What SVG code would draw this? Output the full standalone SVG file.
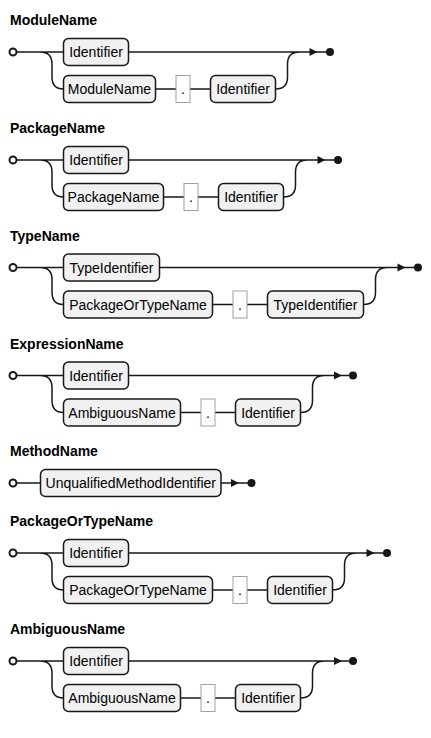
<svg xmlns="http://www.w3.org/2000/svg" width="431" height="738" viewBox="0 0 431 738">
<style>
.bg{fill:#ffffff}
.title{font-family:"Liberation Sans",Arial,sans-serif;font-size:14px;font-weight:bold;fill:#000000}
.nt rect{fill:#F1F1F1;stroke:#181818;stroke-width:1.5}
.nt text{font-family:"Liberation Sans",Arial,sans-serif;font-size:14px;fill:#000000;text-anchor:middle}
.t rect{fill:#FFFFFF;stroke:#A0A0A0;stroke-width:1}
.t text{font-family:"Liberation Sans",Arial,sans-serif;font-size:14px;fill:#000000;text-anchor:middle}
.ln{fill:none;stroke:#181818;stroke-width:1.5}
.start{fill:#FFFFFF;stroke:#181818;stroke-width:2}
.end{fill:#181818;stroke:none}
.arr{fill:#181818;stroke:none}
</style>
<rect class="bg" x="0" y="0" width="431" height="738"/>

<!-- ModuleName Y=52 -->
<g id="ModuleName">
<text class="title" x="10" y="25">ModuleName</text>
<g id="conn-ModuleName">
<path class="ln" d="M17,52 H63.5 M40,52 C48,52 52,56 52,64 V77 C52,85 56,89 63.5,89 M128.5,52 H330 M155.5,89 H176 M190,89 H210.5 M275.5,89 C283.5,89 287.5,85 287.5,77 V64 C287.5,56 291.5,52 299.5,52"/>
<polygon class="arr" points="309.5,48 317.5,52 309.5,56"/>
</g>
<circle class="start" cx="13" cy="52" r="3.5"/>
<circle class="end" cx="330" cy="52" r="4"/>
<g id="ModuleName-n1" class="nt"><rect x="63.5" y="38.5" width="65" height="27" rx="5"/><text x="96" y="57">Identifier</text></g>
<g id="ModuleName-n2" class="nt"><rect x="63.5" y="75.5" width="92" height="27" rx="5"/><text x="109.5" y="94">ModuleName</text></g>
<g id="ModuleName-n3" class="t"><rect x="176" y="75.5" width="14" height="27"/><text x="183" y="94">.</text></g>
<g id="ModuleName-n4" class="nt"><rect x="210.5" y="75.5" width="65" height="27" rx="5"/><text x="243" y="94">Identifier</text></g>
</g>

<!-- PackageName Y=160 -->
<g id="PackageName">
<text class="title" x="10" y="133">PackageName</text>
<g id="conn-PackageName">
<path class="ln" d="M17,160 H63.5 M40,160 C48,160 52,164 52,172 V185 C52,193 56,197 63.5,197 M128.5,160 H338 M163.5,197 H184 M198,197 H218.5 M283.5,197 C291.5,197 295.5,193 295.5,185 V172 C295.5,164 299.5,160 307.5,160"/>
<polygon class="arr" points="317.5,156 325.5,160 317.5,164"/>
</g>
<circle class="start" cx="13" cy="160" r="3.5"/>
<circle class="end" cx="338" cy="160" r="4"/>
<g id="PackageName-n1" class="nt"><rect x="63.5" y="146.5" width="65" height="27" rx="5"/><text x="96" y="165">Identifier</text></g>
<g id="PackageName-n2" class="nt"><rect x="63.5" y="183.5" width="100" height="27" rx="5"/><text x="113.5" y="202">PackageName</text></g>
<g id="PackageName-n3" class="t"><rect x="184" y="183.5" width="14" height="27"/><text x="191" y="202">.</text></g>
<g id="PackageName-n4" class="nt"><rect x="218.5" y="183.5" width="65" height="27" rx="5"/><text x="251" y="202">Identifier</text></g>
</g>

<!-- TypeName Y=267.5 -->
<g id="TypeName">
<text class="title" x="10" y="240.5">TypeName</text>
<g id="conn-TypeName">
<path class="ln" d="M17,267.5 H63.5 M40,267.5 C48,267.5 52,271.5 52,279.5 V292.5 C52,300.5 56,304.5 63.5,304.5 M159.5,267.5 H418 M212.5,304.5 H233 M247,304.5 H267.5 M363.5,304.5 C371.5,304.5 375.5,300.5 375.5,292.5 V279.5 C375.5,271.5 379.5,267.5 387.5,267.5"/>
<polygon class="arr" points="397.5,263.5 405.5,267.5 397.5,271.5"/>
</g>
<circle class="start" cx="13" cy="267.5" r="3.5"/>
<circle class="end" cx="418" cy="267.5" r="4"/>
<g id="TypeName-n1" class="nt"><rect x="63.5" y="254" width="96" height="27" rx="5"/><text x="111.5" y="272.5">TypeIdentifier</text></g>
<g id="TypeName-n2" class="nt"><rect x="63.5" y="291" width="149" height="27" rx="5"/><text x="138" y="309.5">PackageOrTypeName</text></g>
<g id="TypeName-n3" class="t"><rect x="233" y="291" width="14" height="27"/><text x="240" y="309.5">.</text></g>
<g id="TypeName-n4" class="nt"><rect x="267.5" y="291" width="96" height="27" rx="5"/><text x="315.5" y="309.5">TypeIdentifier</text></g>
</g>

<!-- ExpressionName Y=375.5 -->
<g id="ExpressionName">
<text class="title" x="10" y="348.5">ExpressionName</text>
<g id="conn-ExpressionName">
<path class="ln" d="M17,375.5 H63.5 M40,375.5 C48,375.5 52,379.5 52,387.5 V400.5 C52,408.5 56,412.5 63.5,412.5 M128.5,375.5 H353 M180.5,412.5 H201 M215,412.5 H235.5 M300.5,412.5 C308.5,412.5 312.5,408.5 312.5,400.5 V387.5 C312.5,379.5 316.5,375.5 324.5,375.5"/>
<polygon class="arr" points="334,371.5 342,375.5 334,379.5"/>
</g>
<circle class="start" cx="13" cy="375.5" r="3.5"/>
<circle class="end" cx="353" cy="375.5" r="4"/>
<g id="ExpressionName-n1" class="nt"><rect x="63.5" y="362" width="65" height="27" rx="5"/><text x="96" y="380.5">Identifier</text></g>
<g id="ExpressionName-n2" class="nt"><rect x="63.5" y="399" width="117" height="27" rx="5"/><text x="122" y="417.5">AmbiguousName</text></g>
<g id="ExpressionName-n3" class="t"><rect x="201" y="399" width="14" height="27"/><text x="208" y="417.5">.</text></g>
<g id="ExpressionName-n4" class="nt"><rect x="235.5" y="399" width="65" height="27" rx="5"/><text x="268" y="417.5">Identifier</text></g>
</g>

<!-- MethodName Y=483 -->
<g id="MethodName">
<text class="title" x="10" y="456">MethodName</text>
<g id="conn-MethodName">
<path class="ln" d="M17,483 H40.5 M221,483 H251.5"/>
<polygon class="arr" points="231,479 239,483 231,487"/>
</g>
<circle class="start" cx="13" cy="483" r="3.5"/>
<circle class="end" cx="251.5" cy="483" r="4"/>
<g id="MethodName-n1" class="nt"><rect x="40.5" y="469.5" width="180.5" height="27" rx="5"/><text x="130.75" y="488">UnqualifiedMethodIdentifier</text></g>
</g>

<!-- PackageOrTypeName Y=553 -->
<g id="PackageOrTypeName">
<text class="title" x="10" y="526">PackageOrTypeName</text>
<g id="conn-PackageOrTypeName">
<path class="ln" d="M17,553 H63.5 M40,553 C48,553 52,557 52,565 V578 C52,586 56,590 63.5,590 M128.5,553 H387 M212.5,590 H233 M247,590 H267.5 M332.5,590 C340.5,590 344.5,586 344.5,578 V565 C344.5,557 348.5,553 356.5,553"/>
<polygon class="arr" points="366.5,549 374.5,553 366.5,557"/>
</g>
<circle class="start" cx="13" cy="553" r="3.5"/>
<circle class="end" cx="387" cy="553" r="4"/>
<g id="PackageOrTypeName-n1" class="nt"><rect x="63.5" y="539.5" width="65" height="27" rx="5"/><text x="96" y="558">Identifier</text></g>
<g id="PackageOrTypeName-n2" class="nt"><rect x="63.5" y="576.5" width="149" height="27" rx="5"/><text x="138" y="595">PackageOrTypeName</text></g>
<g id="PackageOrTypeName-n3" class="t"><rect x="233" y="576.5" width="14" height="27"/><text x="240" y="595">.</text></g>
<g id="PackageOrTypeName-n4" class="nt"><rect x="267.5" y="576.5" width="65" height="27" rx="5"/><text x="300" y="595">Identifier</text></g>
</g>

<!-- AmbiguousName Y=661 -->
<g id="AmbiguousName">
<text class="title" x="10" y="634">AmbiguousName</text>
<g id="conn-AmbiguousName">
<path class="ln" d="M17,661 H63.5 M40,661 C48,661 52,665 52,673 V686 C52,694 56,698 63.5,698 M128.5,661 H353 M180.5,698 H201 M215,698 H235.5 M300.5,698 C308.5,698 312.5,694 312.5,686 V673 C312.5,665 316.5,661 324.5,661"/>
<polygon class="arr" points="334,657 342,661 334,665"/>
</g>
<circle class="start" cx="13" cy="661" r="3.5"/>
<circle class="end" cx="353" cy="661" r="4"/>
<g id="AmbiguousName-n1" class="nt"><rect x="63.5" y="647.5" width="65" height="27" rx="5"/><text x="96" y="666">Identifier</text></g>
<g id="AmbiguousName-n2" class="nt"><rect x="63.5" y="684.5" width="117" height="27" rx="5"/><text x="122" y="703">AmbiguousName</text></g>
<g id="AmbiguousName-n3" class="t"><rect x="201" y="684.5" width="14" height="27"/><text x="208" y="703">.</text></g>
<g id="AmbiguousName-n4" class="nt"><rect x="235.5" y="684.5" width="65" height="27" rx="5"/><text x="268" y="703">Identifier</text></g>
</g>
</svg>
